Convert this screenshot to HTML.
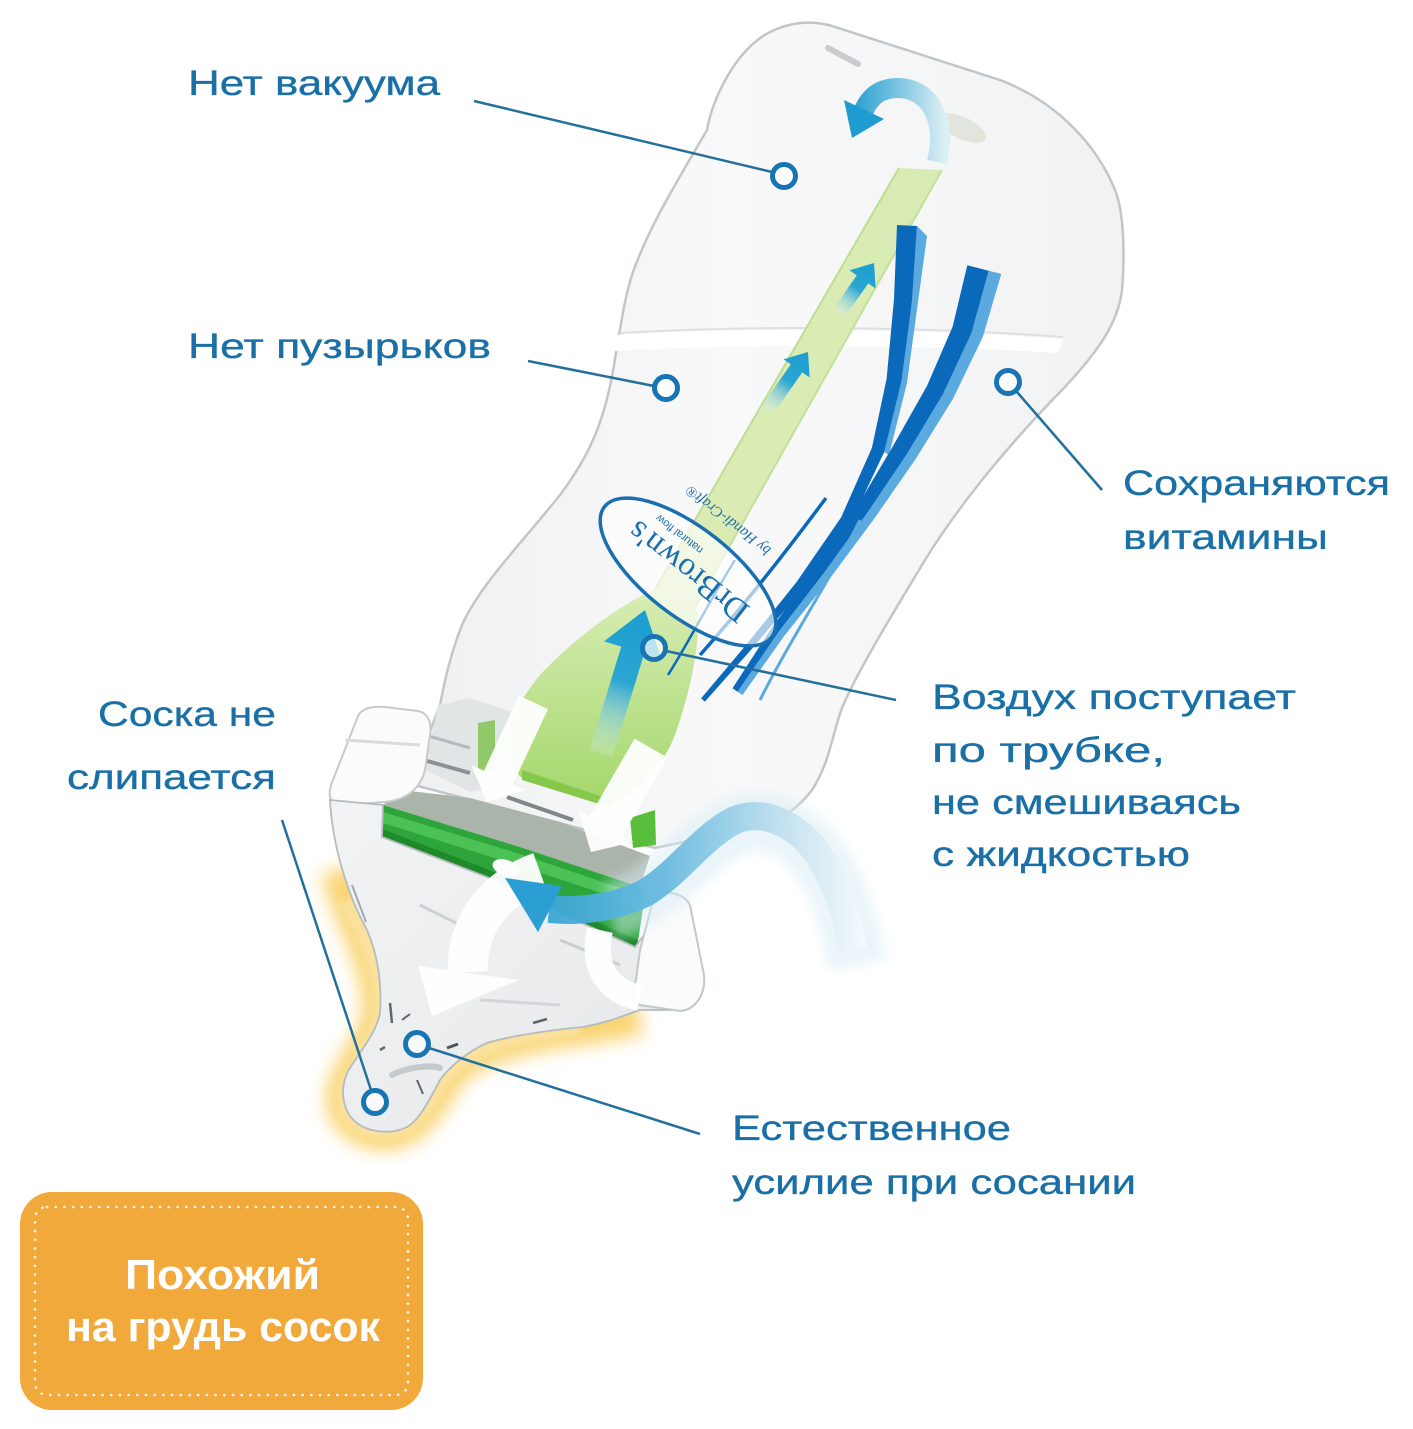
<!DOCTYPE html>
<html><head><meta charset="utf-8">
<style>
html,body{margin:0;padding:0;background:#fff;}
svg{display:block;}
.t{font-family:"Liberation Sans","DejaVu Sans",sans-serif;font-size:35px;fill:#1a70a6;stroke:#1a70a6;stroke-width:0.35px;}
.w{font-family:"Liberation Sans","DejaVu Sans",sans-serif;font-size:42px;font-weight:bold;fill:#ffffff;}
</style></head><body>
<svg width="1413" height="1429" viewBox="0 0 1413 1429" xmlns="http://www.w3.org/2000/svg">
<defs>
 <linearGradient id="gBottle" x1="0" y1="0" x2="1" y2="0">
   <stop offset="0" stop-color="#eff0f1"/><stop offset="0.45" stop-color="#f9f9fa"/><stop offset="1" stop-color="#f1f2f3"/>
 </linearGradient>
 <linearGradient id="gBulb" x1="0" y1="0" x2="0" y2="1">
   <stop offset="0" stop-color="#d9edb6"/><stop offset="1" stop-color="#a3d76a"/>
 </linearGradient>
 <linearGradient id="gArrow" x1="0" y1="0" x2="0" y2="1">
   <stop offset="0" stop-color="#1b9dcf"/><stop offset="0.5" stop-color="#2ba6d2"/><stop offset="1" stop-color="#d8eef2" stop-opacity="0.2"/>
 </linearGradient>
 <linearGradient id="gTop" gradientUnits="userSpaceOnUse" x1="945" y1="0" x2="850" y2="0">
   <stop offset="0" stop-color="#dcf0f4"/><stop offset="0.5" stop-color="#7cc4e2"/><stop offset="1" stop-color="#1f9ccf"/>
 </linearGradient>
 <linearGradient id="gS" gradientUnits="userSpaceOnUse" x1="510" y1="0" x2="860" y2="0">
   <stop offset="0" stop-color="#2b9fd3"/><stop offset="0.45" stop-color="#6bbbe0"/><stop offset="0.8" stop-color="#c6e3f0"/><stop offset="1" stop-color="#f2f8fb"/>
 </linearGradient>
 <linearGradient id="gNip" x1="0" y1="0" x2="1" y2="1">
   <stop offset="0" stop-color="#f2f3f4"/><stop offset="1" stop-color="#e5e8e9"/>
 </linearGradient>
 <filter id="blur10" x="-50%" y="-50%" width="200%" height="200%"><feGaussianBlur stdDeviation="9"/></filter>
 <filter id="blur4" x="-50%" y="-50%" width="200%" height="200%"><feGaussianBlur stdDeviation="4"/></filter>
 <filter id="blur6" x="-50%" y="-50%" width="200%" height="200%"><feGaussianBlur stdDeviation="6"/></filter>
</defs>

<rect width="1413" height="1429" fill="#ffffff"/>

<!-- Bottle body -->
<path d="M 707,130 C 712,100 735,50 770,32 C 790,22 812,20 832,26 L 1000,80 C 1060,103 1098,148 1115,190 C 1124,212 1125,255 1122,290 C 1118,325 1095,355 1062,390 C 1015,438 962,500 925,560 C 892,615 858,670 842,708 C 832,735 830,762 812,790 C 797,810 778,821 760,826 L 655,848 L 410,784 L 440,705 C 445,680 450,655 462,625 C 480,585 520,545 560,495 C 590,455 605,420 614,365 C 620,330 624,300 632,275 C 648,228 678,180 707,130 Z" fill="url(#gBottle)" stroke="#c2c6c9" stroke-width="2.5"/>
<!-- top slot & vent -->
<path d="M 828,48 L 858,64" stroke="#c8cccf" stroke-width="6" stroke-linecap="round"/>
<ellipse cx="962" cy="128" rx="26" ry="11" transform="rotate(25 962 128)" fill="#cbd6c4" opacity="0.5"/>
<!-- liquid surface -->
<path d="M 620,333 C 760,325 930,327 1063,337" stroke="#dde0e2" stroke-width="2" fill="none"/>
<path d="M 618,335 C 760,327 930,329 1063,339 L 1058,353 C 930,345 760,343 614,351 Z" fill="#ffffff"/>

<!-- neck area -->
<path d="M 438,705 L 470,698 L 525,716 L 515,782 L 470,792 L 425,770 Z" fill="#e2e5e6"/>
<path d="M 413,757 L 470,773" stroke="#8b9296" stroke-width="4"/>
<path d="M 425,735 L 470,748" stroke="#b4babd" stroke-width="3"/>
<path d="M 507,797 L 573,820" stroke="#7f878b" stroke-width="4"/>
<path d="M 593,850 L 620,863" stroke="#8b9296" stroke-width="4"/>

<!-- Green tube -->
<polygon points="899,168 942,170 693,611 655,589" fill="#d6eaac" opacity="0.9"/>
<path d="M 899,168 L 655,589" stroke="#bfdc93" stroke-width="2"/>
<path d="M 942,170 L 693,611" stroke="#c4df9a" stroke-width="2"/>
<!-- bulb -->
<path d="M 655,589 C 620,605 572,640 540,675 C 515,705 503,735 508,755 C 512,768 518,774 522,778 L 612,806 C 640,790 662,765 673,740 C 688,700 700,650 698,612 Z" fill="url(#gBulb)"/>
<path d="M 522,770 L 612,800 L 612,808 L 522,780 Z" fill="#86c84c"/>
<path d="M 478,723 L 495,720 L 495,772 L 478,770 Z" fill="#7cc24a" opacity="0.8"/>
<path d="M 630,818 L 655,810 L 656,845 L 633,848 Z" fill="#58bd3b"/>

<!-- Blue stripes -->
<polygon points="917,226 927,236 918,302 907,383 889,455 884,452 901,381 912,301" fill="#5aaae0"/>
<polygon points="897,225 894,299 886.6,378.8 871.9,447.9 841.2,517.2 796.4,582.3 745.4,645.7 701.1,698.4 704.9,701.6 750.6,650.3 803.6,587.7 850.8,522.8 884.1,452.1 901.4,381.2 912,301 917,226" fill="#0b69bb"/>
<polygon points="988.7,270.7 971.4,333.3 943,394.1 906.8,454.2 867,513.3 824,572.9 778.3,632.3 737.5,691.7 742.5,695 784,636.3 830.5,577.6 874.5,518.3 915.4,459.4 952.8,399.1 982.7,337.3 1001.3,273.9" fill="#5aaae0"/>
<polygon points="967.3,265.3 952.6,326.7 927,385.9 893.2,445.8 857,506.7 816,567.1 771.7,627.7 732.5,688.3 737.5,691.7 778.3,632.3 824,572.9 867,513.3 906.8,454.2 943,394.1 971.4,333.3 988.7,270.7" fill="#0b69bb"/>
<path d="M 826,498 C 780,560 740,610 700,655" stroke="#0b69bb" stroke-width="3.5" fill="none"/>
<path d="M 735,560 C 710,600 690,640 668,675" stroke="#0b69bb" stroke-width="2.5" fill="none"/>
<path d="M 860,520 C 830,580 790,640 760,700" stroke="#5aaae0" stroke-width="3" fill="none"/>

<!-- Label -->
<g transform="translate(688,572) rotate(218)">
  <ellipse cx="0" cy="0" rx="106" ry="44" fill="#ffffff" fill-opacity="0.65" stroke="#1a6fb0" stroke-width="3.5"/>
  <text x="0" y="11" text-anchor="middle" font-family="Liberation Serif, serif" font-size="33" fill="#1a6fb0">DrBrown's</text>
  <text x="30" y="28" text-anchor="middle" font-family="Liberation Sans, sans-serif" font-size="11" fill="#1a6fb0">natural flow</text>
  <text x="0" y="70" text-anchor="middle" font-family="Liberation Serif, serif" font-style="italic" font-size="15" fill="#1a6fb0">by Handi-Craft®</text>
</g>

<!-- Blue arrows in tube -->
<path d="M0,0 L16,20 L7,20 L7,62 L-7,62 L-7,20 L-16,20 Z" transform="translate(874,263) rotate(35)" fill="url(#gArrow)"/>
<path d="M0,0 L16,20 L7,20 L7,72 L-7,72 L-7,20 L-16,20 Z" transform="translate(808,352) rotate(35)" fill="url(#gArrow)"/>
<path d="M0,0 L30,42 L12,42 L12,150 L-12,150 L-12,42 L-30,42 Z" transform="translate(645,610) rotate(17)" fill="url(#gArrow)"/>
<!-- top curved arrow -->
<path d="M 937,162 C 948,118 928,88 898,88 C 880,88 870,97 864,110" stroke="url(#gTop)" stroke-width="20" fill="none"/>
<polygon points="844,100 884,119 852,138" fill="#1f9ccf"/>

<!-- Ring -->
<polygon points="395,796 410,791 470,798 560,822 650,856 640,887 520,847 383,805" fill="#aab4aa"/>
<polygon points="383,805 520,847 640,887 645,895 637,948 553,910 487,877 382,837" fill="#2ea53a"/>
<polygon points="383,812 520,854 641,895 640,906 520,866 383,823" fill="#4cc256"/>
<polygon points="382,829 487,869 553,902 637,940 637,948 553,910 487,877 382,837" fill="#1e8a2a"/>
<ellipse cx="506" cy="868" rx="14" ry="8" transform="rotate(20 506 868)" fill="#ffffff"/>

<!-- Collar left tab -->
<path d="M 358,716 C 362,708 372,706 385,707 L 418,711 C 428,713 432,722 430,735 L 425,770 C 420,790 405,800 385,802 L 340,805 C 330,805 328,795 331,785 Z" fill="#fbfbfb" stroke="#c6cacd" stroke-width="2"/>
<path d="M 345,740 L 420,745" stroke="#d8dcde" stroke-width="3"/>

<!-- Nipple glow -->
<path d="M 338,870 C 350,920 380,960 380,1010 C 378,1040 345,1070 343,1097 C 343,1125 370,1136 395,1132 C 420,1125 435,1095 450,1072 C 470,1050 520,1035 590,1027 L 640,1018" stroke="#f8cf5e" stroke-width="34" fill="none" filter="url(#blur10)" opacity="0.9"/>
<path d="M 345,900 C 360,930 380,960 380,1010 C 378,1040 345,1070 343,1097 C 343,1125 370,1136 395,1132 C 420,1125 435,1095 450,1072 C 470,1050 520,1035 580,1028" stroke="#fbe2a0" stroke-width="14" fill="none" filter="url(#blur4)"/>
<!-- Nipple -->
<path d="M 330,800 C 332,840 345,890 367,930 C 378,955 382,985 380,1013 C 376,1035 355,1058 347,1073 C 340,1090 342,1112 357,1123 C 368,1132 392,1135 407,1127 C 420,1120 432,1095 440,1080 C 448,1068 470,1050 487,1043 C 505,1037 550,1030 583,1027 C 610,1022 625,1015 640,1010 L 680,1010 L 703,980 L 687,907 L 653,923 L 635,947 L 553,910 L 487,877 L 382,837 L 383,805 Z" fill="url(#gNip)" stroke="#b5bbbf" stroke-width="1.8"/>
<!-- streaks -->
<path d="M 352,885 L 366,922" stroke="#a3a9ad" stroke-width="2"/>
<path d="M 390,1003 L 392,1023" stroke="#5f676b" stroke-width="2.5"/>
<path d="M 402,1020 L 410,1014" stroke="#5f676b" stroke-width="2"/>
<path d="M 380,1050 L 385,1047" stroke="#5f676b" stroke-width="2.5"/>
<path d="M 447,1048 L 458,1044" stroke="#4d5559" stroke-width="3"/>
<path d="M 417,1080 L 423,1094" stroke="#5f676b" stroke-width="2"/>
<path d="M 533,1023 L 547,1019" stroke="#5f676b" stroke-width="2.5"/>
<path d="M 392,1075 C 405,1068 430,1064 440,1068" stroke="#c4c9cc" stroke-width="6" stroke-linecap="round" fill="none"/>
<path d="M 420,905 L 470,930" stroke="#ccd1d3" stroke-width="3"/>
<path d="M 560,940 L 620,965" stroke="#c8cdd0" stroke-width="3"/>
<path d="M 480,1000 L 560,1005" stroke="#d2d6d8" stroke-width="3"/>
<!-- right collar tab -->
<path d="M 655,893 C 670,890 685,895 690,905 L 704,975 C 706,995 695,1010 680,1011 L 640,1005 C 632,1000 632,990 636,980 L 640,950 Z" fill="#fbfbfb" stroke="#c3c8cb" stroke-width="2"/>

<!-- White arrows -->
<g fill="#ffffff" opacity="0.95">
  <path d="M0,0 L30,27 L16,27 L16,110 L-16,110 L-16,27 L-30,27 Z" transform="translate(487,802) rotate(205)"/>
  <path d="M0,0 L32,30 L19,30 L19,120 L-19,120 L-19,30 L-32,30 Z" transform="translate(591,852) rotate(210)"/>
  <path d="M 540,872 C 495,888 466,925 468,972" stroke="#ffffff" stroke-width="40" fill="none"/>
  <polygon points="418,966 518,980 432,1016"/>
  <path d="M 600,930 C 592,965 605,990 640,998" stroke="#ffffff" stroke-width="26" fill="none"/>
</g>

<!-- S-shaped air arrow -->
<path d="M 610,910 C 660,900 690,850 730,828 C 780,805 825,850 842,905 C 850,930 855,950 858,965" stroke="#d6ebf4" stroke-width="58" fill="none" opacity="0.5" filter="url(#blur6)"/>
<path d="M 549,909 C 580,912 615,908 645,893 C 680,872 700,838 735,820 C 765,808 800,825 822,860 C 838,888 848,920 854,950" stroke="url(#gS)" stroke-width="28" fill="none" opacity="0.95"/>
<polygon points="505,878 562,886 538,932" fill="#2b9fd3"/>

<!-- Connectors -->
<g stroke="#23709d" stroke-width="2.5" fill="none">
  <line x1="474" y1="101" x2="772" y2="172"/>
  <line x1="528" y1="361" x2="654" y2="386"/>
  <line x1="1017" y1="392" x2="1102" y2="490"/>
  <line x1="666" y1="651" x2="896" y2="700"/>
  <line x1="282" y1="820" x2="371" y2="1090"/>
  <line x1="429" y1="1048" x2="700" y2="1134"/>
</g>
<g stroke="#1874b3" stroke-width="5" fill="#ffffff" fill-opacity="0.7">
  <circle cx="784" cy="176" r="11.5"/>
  <circle cx="666" cy="388" r="11.5"/>
  <circle cx="1008" cy="382" r="11.5"/>
  <circle cx="654" cy="648" r="11.5"/>
  <circle cx="375" cy="1102" r="11.5"/>
  <circle cx="417" cy="1044" r="11.5"/>
</g>

<!-- Labels -->
<text class="t" x="188" y="95" textLength="252" lengthAdjust="spacingAndGlyphs">Нет вакуума</text>
<text class="t" x="188" y="358" textLength="303" lengthAdjust="spacingAndGlyphs">Нет пузырьков</text>
<text class="t" x="1123" y="495" textLength="267" lengthAdjust="spacingAndGlyphs">Сохраняются</text>
<text class="t" x="1123" y="549" textLength="205" lengthAdjust="spacingAndGlyphs">витамины</text>
<text class="t" x="932" y="709" textLength="364" lengthAdjust="spacingAndGlyphs">Воздух поступает</text>
<text class="t" x="932" y="762" textLength="233" lengthAdjust="spacingAndGlyphs">по трубке,</text>
<text class="t" x="932" y="814" textLength="309" lengthAdjust="spacingAndGlyphs">не смешиваясь</text>
<text class="t" x="932" y="866" textLength="258" lengthAdjust="spacingAndGlyphs">с жидкостью</text>
<text class="t" x="98" y="726" textLength="178" lengthAdjust="spacingAndGlyphs">Соска не</text>
<text class="t" x="67" y="789" textLength="209" lengthAdjust="spacingAndGlyphs">слипается</text>
<text class="t" x="732" y="1140" textLength="279" lengthAdjust="spacingAndGlyphs">Естественное</text>
<text class="t" x="732" y="1194" textLength="404" lengthAdjust="spacingAndGlyphs">усилие при сосании</text>

<!-- Orange box -->
<rect x="20" y="1192" width="403" height="218" rx="32" ry="32" fill="#f2a93c"/>
<rect x="35" y="1207" width="373" height="188" rx="12" ry="12" fill="none" stroke="#fff6e6" stroke-width="2.6" stroke-linecap="round" stroke-dasharray="0.1 8.6"/>
<text class="w" x="125" y="1289" textLength="195" lengthAdjust="spacingAndGlyphs">Похожий</text>
<text class="w" x="66" y="1341" textLength="314" lengthAdjust="spacingAndGlyphs">на грудь сосок</text>
</svg>
</body></html>
